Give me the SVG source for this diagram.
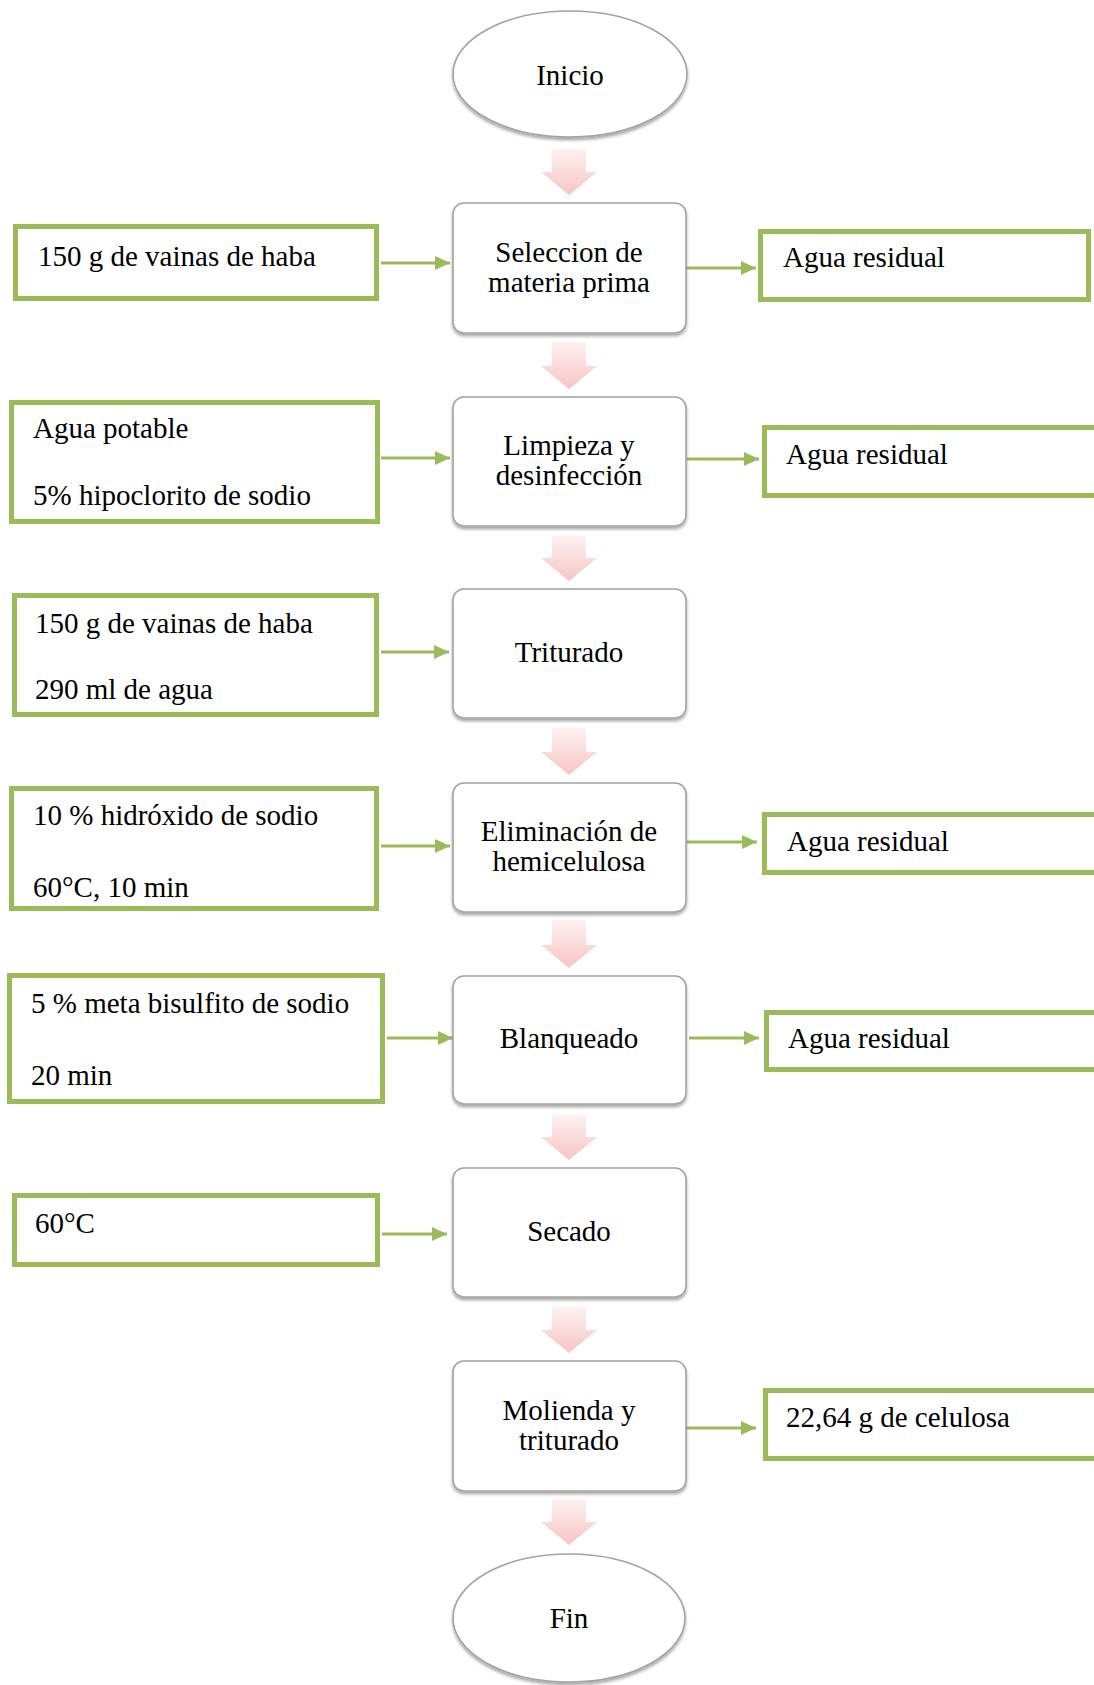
<svg xmlns="http://www.w3.org/2000/svg" width="1094" height="1685" viewBox="0 0 1094 1685">
<defs>
<linearGradient id="pink" x1="0" y1="0" x2="0" y2="1">
<stop offset="0" stop-color="#fdf1f1"/>
<stop offset="1" stop-color="#f8c4c4"/>
</linearGradient>
<filter id="sh" x="-10%" y="-10%" width="120%" height="125%">
<feDropShadow dx="0" dy="2.5" stdDeviation="1.6" flood-color="#000" flood-opacity="0.35"/>
</filter>
<marker id="ga" markerWidth="16" markerHeight="16" refX="15" refY="7" orient="auto" markerUnits="userSpaceOnUse">
<path d="M0,0 L15,7 L0,14 Z" fill="#9bbb59"/>
</marker>
</defs>
<style>
.t{font-family:"Liberation Serif","Times New Roman",serif;font-size:29px;fill:#000}
.c{text-anchor:middle}
.p{fill:#fff;stroke:#a3a3a3;stroke-width:1.6;filter:url(#sh)}
.g{fill:#fff;stroke:#9bbb59;stroke-width:5}
.ln{stroke:#9bbb59;stroke-width:3;fill:none;marker-end:url(#ga)}
.pa{fill:url(#pink)}
</style>
<rect width="1094" height="1685" fill="#fff"/>

<g id="connectors">
<path class="pa" d="M552,149 H586 V172 H597 L569,195 L541,172 H552 Z"/>
<path class="pa" d="M552,342 H586 V366 H597 L569,389 L541,366 H552 Z"/>
<path class="pa" d="M552,536 H586 V558 H597 L569,581 L541,558 H552 Z"/>
<path class="pa" d="M552,728 H586 V752 H597 L569,775 L541,752 H552 Z"/>
<path class="pa" d="M552,920 H586 V945 H597 L569,968 L541,945 H552 Z"/>
<path class="pa" d="M552,1115 H586 V1137 H597 L569,1160 L541,1137 H552 Z"/>
<path class="pa" d="M552,1307 H586 V1330 H597 L569,1353 L541,1330 H552 Z"/>
<path class="pa" d="M552,1499 H586 V1522 H597 L569,1545 L541,1522 H552 Z"/>
<line class="ln" x1="381" y1="263" x2="450" y2="263"/>
<line class="ln" x1="381" y1="458" x2="450" y2="458"/>
<line class="ln" x1="381" y1="652" x2="449" y2="652"/>
<line class="ln" x1="381" y1="846" x2="450" y2="846"/>
<line class="ln" x1="387" y1="1038" x2="453" y2="1038"/>
<line class="ln" x1="382" y1="1234" x2="447" y2="1234"/>
<line class="ln" x1="686" y1="268" x2="756" y2="268"/>
<line class="ln" x1="687" y1="459" x2="759" y2="459"/>
<line class="ln" x1="687" y1="842" x2="757" y2="842"/>
<line class="ln" x1="689" y1="1038" x2="759" y2="1038"/>
<line class="ln" x1="686" y1="1428" x2="756" y2="1428"/>
</g>

<g id="inicio">
<ellipse cx="570" cy="74" rx="117" ry="63" class="p"/>
<text class="t c" x="570" y="85">Inicio</text>
</g>
<g id="seleccion">
<rect class="p" x="453" y="203" width="233" height="130" rx="11"/>
<text class="t c" x="569" y="262">Seleccion de</text>
<text class="t c" x="569" y="292">materia prima</text>
</g>
<g id="limpieza">
<rect class="p" x="453" y="397" width="233" height="129" rx="11"/>
<text class="t c" x="569" y="455">Limpieza y</text>
<text class="t c" x="569" y="485">desinfección</text>
</g>
<g id="triturado">
<rect class="p" x="453" y="589" width="233" height="129" rx="11"/>
<text class="t c" x="569" y="662">Triturado</text>
</g>
<g id="eliminacion">
<rect class="p" x="453" y="783" width="233" height="129" rx="11"/>
<text class="t c" x="569" y="841">Eliminación de</text>
<text class="t c" x="569" y="871">hemicelulosa</text>
</g>
<g id="blanqueado">
<rect class="p" x="453" y="976" width="233" height="128" rx="11"/>
<text class="t c" x="569" y="1048">Blanqueado</text>
</g>
<g id="secado">
<rect class="p" x="453" y="1168" width="233" height="129" rx="11"/>
<text class="t c" x="569" y="1241">Secado</text>
</g>
<g id="molienda">
<rect class="p" x="453" y="1361" width="233" height="130" rx="11"/>
<text class="t c" x="569" y="1420">Molienda y</text>
<text class="t c" x="569" y="1450">triturado</text>
</g>
<g id="fin">
<ellipse cx="569" cy="1618" rx="116" ry="64" class="p"/>
<text class="t c" x="569" y="1628">Fin</text>
</g>

<g id="in1">
<rect class="g" x="15.5" y="226.5" width="361" height="72"/>
<text class="t" x="38" y="266">150 g de vainas de haba</text>
</g>
<g id="in2">
<rect class="g" x="11.5" y="402.5" width="366" height="119"/>
<text class="t" x="33" y="438">Agua potable</text>
<text class="t" x="33" y="505">5% hipoclorito de sodio</text>
</g>
<g id="in3">
<rect class="g" x="14.5" y="595.5" width="362" height="119"/>
<text class="t" x="35" y="633">150 g de vainas de haba</text>
<text class="t" x="35" y="699">290 ml de agua</text>
</g>
<g id="in4">
<rect class="g" x="11.5" y="788.5" width="365" height="120"/>
<text class="t" x="33" y="825">10 % hidróxido de sodio</text>
<text class="t" x="33" y="897">60°C, 10 min</text>
</g>
<g id="in5">
<rect class="g" x="9.5" y="975.5" width="373" height="126"/>
<text class="t" x="31" y="1013">5 %  meta bisulfito de sodio</text>
<text class="t" x="31" y="1085">20 min</text>
</g>
<g id="in6">
<rect class="g" x="14.5" y="1195.5" width="363" height="69"/>
<text class="t" x="35" y="1233">60°C</text>
</g>

<g id="out1">
<rect class="g" x="760.5" y="231.5" width="328" height="68"/>
<text class="t" x="783" y="267">Agua residual</text>
</g>
<g id="out2">
<rect class="g" x="764.5" y="427.5" width="340" height="68"/>
<text class="t" x="786" y="464">Agua residual</text>
</g>
<g id="out4">
<rect class="g" x="764.5" y="814.5" width="340" height="58"/>
<text class="t" x="787" y="851">Agua residual</text>
</g>
<g id="out5">
<rect class="g" x="766.5" y="1012.5" width="340" height="57"/>
<text class="t" x="788" y="1048">Agua residual</text>
</g>
<g id="out7">
<rect class="g" x="765.5" y="1390.5" width="340" height="68"/>
<text class="t" x="786" y="1427">22,64 g de celulosa</text>
</g>
</svg>
